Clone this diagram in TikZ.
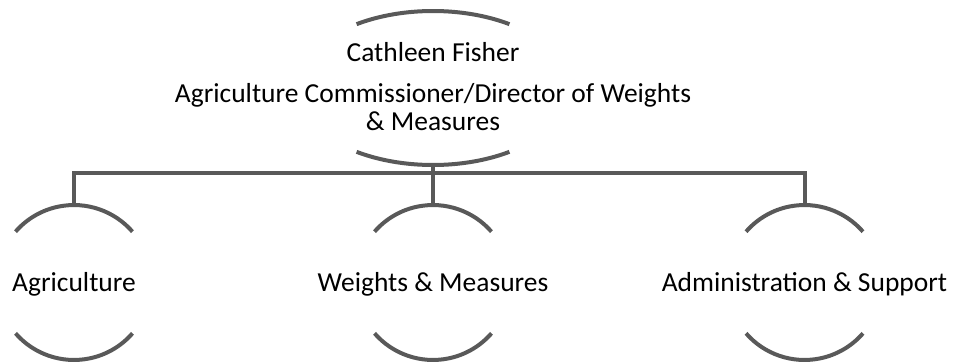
\documentclass[tikz,border=0pt]{standalone}
\usepackage{fontspec}
\setmainfont{Carlito}
\definecolor{linegray}{HTML}{595959}
\tikzset{
  lbl/.style={inner sep=0pt, anchor=base, font=\fontsize{20.6}{21}\selectfont, text=black},
  bracket/.style={draw=linegray, line width=3pt},
  conn/.style={draw=linegray, line width=3pt},
}
\begin{document}
\begin{tikzpicture}[x=0.75pt,y=0.75pt]
\useasboundingbox (0,0) rectangle (955,362);
% centres
\coordinate (top) at (433,274);
\coordinate (c1) at (74,79.5);
\coordinate (c2) at (433,79.5);
\coordinate (c3) at (804.5,79.5);
% top shape
\draw[bracket] ([shift={(56:102.5pt and 57.75pt)}]top) arc[start angle=56,end angle=124,x radius=102.5pt,y radius=57.75pt];
\draw[bracket] ([shift={(236:102.5pt and 57.75pt)}]top) arc[start angle=236,end angle=304,x radius=102.5pt,y radius=57.75pt];
\node[lbl] (name) at (433,301) {Cathleen Fisher};
\node[lbl, align=center] (title) at (433,232) {Agriculture Commissioner/Director of Weights\\[-0.5pt]\& Measures};
% lower shapes
\foreach \c in {c1,c2,c3}{
  \draw[bracket] ([shift={(41:58.1pt)}]\c) arc[start angle=41,end angle=139,radius=58.1pt];
  \draw[bracket] ([shift={(221:58.1pt)}]\c) arc[start angle=221,end angle=319,radius=58.1pt];
}
\node[lbl] (agr) at (74,71) {Agriculture};
\node[lbl] (wm) at (433,71) {Weights \& Measures};
\node[lbl] (adm) at (804.5,71) {Administration \& Support};
% connectors
\coordinate (topbot) at ([yshift=-57.75pt]top);
\coordinate (t1) at ([yshift=58.1pt]c1);
\coordinate (t2) at ([yshift=58.1pt]c2);
\coordinate (t3) at ([yshift=58.1pt]c3);
\draw[conn] (topbot) -- (t2);
\draw[conn] (t1) |- (433,189) -| (t3);
\end{tikzpicture}
\end{document}
